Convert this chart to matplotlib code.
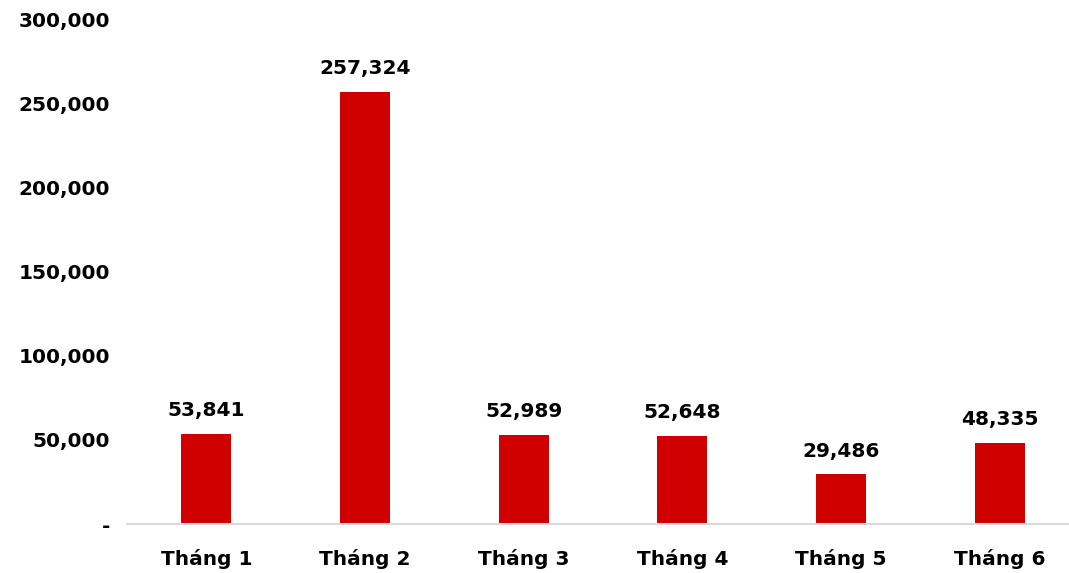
import matplotlib.pyplot as plt
from matplotlib.ticker import FuncFormatter

months = ['Tháng 1', 'Tháng 2', 'Tháng 3', 'Tháng 4', 'Tháng 5', 'Tháng 6']
values = [53841, 257324, 52989, 52648, 29486, 48335]
y_ticks = [0, 50000, 100000, 150000, 200000, 250000, 300000]

W, H = 1069, 573
fig = plt.figure(figsize=(W / 100, H / 100), dpi=100)
ax = fig.add_axes([127 / W, (H - 524) / H, (W - 127) / W, (524 - 20) / H])

x = list(range(len(months)))
ax.bar(x, values, width=0.315, color='#D00000', zorder=2)

# value labels above each bar
for xi, v in zip(x, values):
    ax.annotate(f'{v:,}', (xi, v), xytext=(0, 10), textcoords='offset points',
                ha='center', va='bottom', fontsize=14.5, fontweight='bold')

ax.set_xlim(-0.5, (W - 127) / 158.7 - 0.5)
ax.set_ylim(0, 300000)
ax.set_yticks(y_ticks)
ax.yaxis.set_major_formatter(FuncFormatter(lambda v, _: '-' if v == 0 else f'{int(v):,}'))
ax.set_xticks(x)
ax.set_xticklabels(months)

for lbl in ax.get_xticklabels() + ax.get_yticklabels():
    lbl.set_fontweight('bold')
    lbl.set_fontsize(14.5)
ax.tick_params(axis='y', length=0, pad=12)
ax.tick_params(axis='x', length=0, pad=18)

for side in ['top', 'right', 'left']:
    ax.spines[side].set_visible(False)
ax.spines['bottom'].set_color('#D9D9D9')
ax.spines['bottom'].set_linewidth(1.5)

fig.savefig('out.png', dpi=100)
